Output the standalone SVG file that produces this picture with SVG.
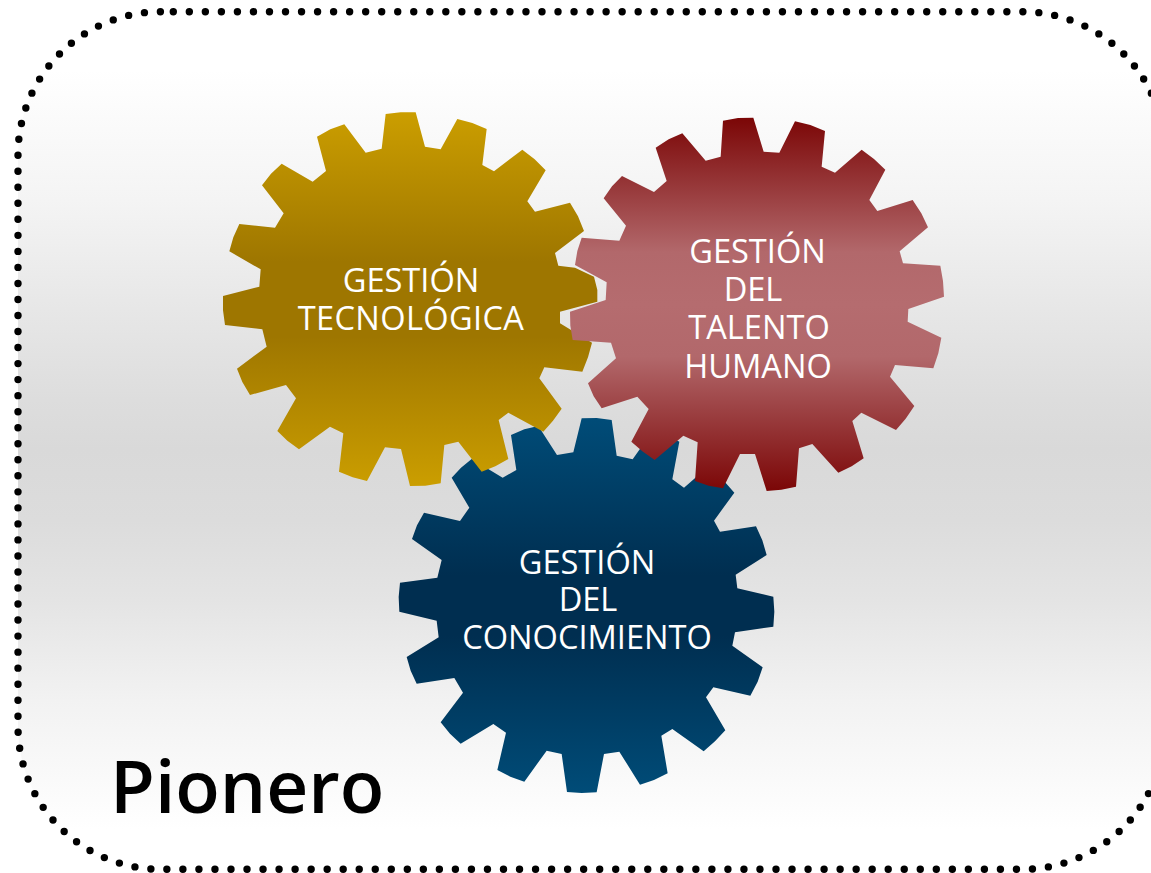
<svg xmlns="http://www.w3.org/2000/svg" width="1151" height="873" viewBox="0 0 1151 873">
<style>
.t{font-family:"Open Sans","Noto Sans","Liberation Sans",sans-serif;font-size:32.6px;fill:#fff;text-anchor:middle}
.p{font-family:"Open Sans","Noto Sans","Liberation Sans",sans-serif;font-size:73px;font-weight:600;fill:#000}
</style>
<defs>
<linearGradient id="bg" gradientUnits="userSpaceOnUse" x1="0" y1="0" x2="0" y2="873">
<stop offset="0.08" stop-color="#fff"/><stop offset="0.229" stop-color="#f4f4f4"/><stop offset="0.344" stop-color="#e8e8e8"/><stop offset="0.458" stop-color="#dddddd"/><stop offset="0.515" stop-color="#d9d9d9"/><stop offset="0.596" stop-color="#dcdcdc"/><stop offset="0.687" stop-color="#e4e4e4"/><stop offset="0.802" stop-color="#f2f2f2"/><stop offset="0.916" stop-color="#fcfcfc"/><stop offset="0.95" stop-color="#fff"/></linearGradient>
<linearGradient id="gold" x1="0" y1="0" x2="0" y2="1"><stop offset="0" stop-color="#cb9e00"/><stop offset="0.4" stop-color="#9e7600"/><stop offset="0.6" stop-color="#9e7600"/><stop offset="1" stop-color="#cb9e00"/></linearGradient>
<linearGradient id="red" x1="0" y1="0" x2="0" y2="1"><stop offset="0" stop-color="#7b0606"/><stop offset="0.36" stop-color="#b2686b"/><stop offset="0.5" stop-color="#b56c6f"/><stop offset="0.64" stop-color="#b2686b"/><stop offset="1" stop-color="#7b0606"/></linearGradient>
<linearGradient id="blue" x1="0" y1="0" x2="0" y2="1"><stop offset="0" stop-color="#004c78"/><stop offset="0.42" stop-color="#002e50"/><stop offset="0.58" stop-color="#002e50"/><stop offset="1" stop-color="#004c78"/></linearGradient>
</defs>
<g id="frame">
<path d="M173.3 11.7H1022.3A143 143 0 0 1 1165.3 154.7V726.3A143 143 0 0 1 1022.3 869.3H161A143 143 0 0 1 18 726.3V154.7A143 143 0 0 1 161 11.7Z" fill="url(#bg)" stroke="#000" stroke-width="7.4" stroke-linecap="round" stroke-dasharray="0 16.03"/>
</g>
<g id="connectors"></g>
<g id="gear-conocimiento">
<polygon transform="translate(390 410) scale(.33333)" fill="url(#blue)" points="575,25 620,24 665,30 680,137 728,148 790,60 830,74 868,95 847,208 882,233 960,165 1033,248 972,332 990,365 1098,349 1117,391 1130,435 1037,494 1042,535 1150,560 1153,605 1150,650 1035,667 1027,707 1118,772 1103,815 1081,857 970,832 948,862 1006,961 975,994 941,1024 847,957 814,977 833,1090 792,1110 750,1124 688,1025 642,1032 620,1147 575,1149 531,1146 515,1032 470,1022 403,1115 361,1100 322,1080 348,968 310,942 212,1001 180,971 152,937 219,848 193,804 80,821 62,782 50,741 146,682 140,632 28,605 26,561 30,518 142,503 155,450 66,387 81,346 102,308 210,333 238,293 185,203 213,173 245,147 338,203 379,180 363,75 403,58 445,48 501,135 550,127"/>
<text class="t" x="587" y="573.7">GESTIÓN</text><text class="t" x="588" y="611">DEL</text><text class="t" x="587" y="649">CONOCIMIENTO</text>
</g>
<g id="gear-tecnologica">
<polygon transform="translate(210 100) scale(.33333)" fill="url(#gold)" points="527,42 572,37 617,37 645,140 692,148 742,57 787,69 830,87 817,195 852,214 937,149 974,178 1007,211 952,304 975,335 1080,308 1104,349 1122,393 1035,459 1045,497 1095,503 1152,530 1162,570 1162,605 1050,635 1050,670 1146,728 1134,772 1117,815 1003,802 988,835 1055,926 1029,962 1000,995 895,938 866,960 895,1077 856,1099 815,1115 745,1025 703,1035 692,1150 646,1157 600,1158 573,1047 525,1042 471,1143 428,1132 387,1115 400,1000 360,980 267,1048 232,1022 202,993 258,895 228,855 120,885 97,846 81,806 170,740 157,688 45,675 39,631 39,588 148,560 152,508 58,454 70,412 88,372 195,383 221,340 156,256 183,221 215,191 308,245 348,213 321,110 361,88 403,73 467,158 515,146"/>
<text class="t" x="411" y="291.7">GESTIÓN</text><text class="t" x="411" y="329.7" letter-spacing=".35">TECNOLÓGICA</text>
</g>
<g id="gear-talento">
<polygon transform="translate(560 100) scale(.33333)" fill="url(#red)" points="489,62 534,54 580,53 611,155 658,158 705,64 751,75 795,93 785,200 825,218 905,149 942,177 976,209 928,300 952,333 1058,300 1084,340 1104,382 1019,454 1029,490 1141,497 1149,543 1152,590 1045,627 1043,665 1144,713 1135,760 1120,805 1005,795 990,830 1063,918 1037,956 1008,990 904,938 877,963 911,1075 875,1099 835,1118 757,1032 717,1045 708,1160 664,1169 620,1173 585,1062 540,1062 489,1165 446,1157 405,1143 413,1027 370,1007 284,1080 247,1054 214,1025 266,927 232,890 125,925 101,889 84,850 168,775 153,728 38,720 31,677 30,635 137,600 140,547 45,495 52,453 65,413 178,422 198,377 131,295 156,259 186,228 282,276 320,243 287,143 326,118 367,100 437,182 482,170"/>
<text class="t" x="757.5" y="262.7">GESTIÓN</text><text class="t" x="753" y="301">DEL</text><text class="t" x="759" y="339">TALENTO</text><text class="t" x="758" y="377.7">HUMANO</text>
</g>
<text class="p" x="110" y="813">Pionero</text>
</svg>
